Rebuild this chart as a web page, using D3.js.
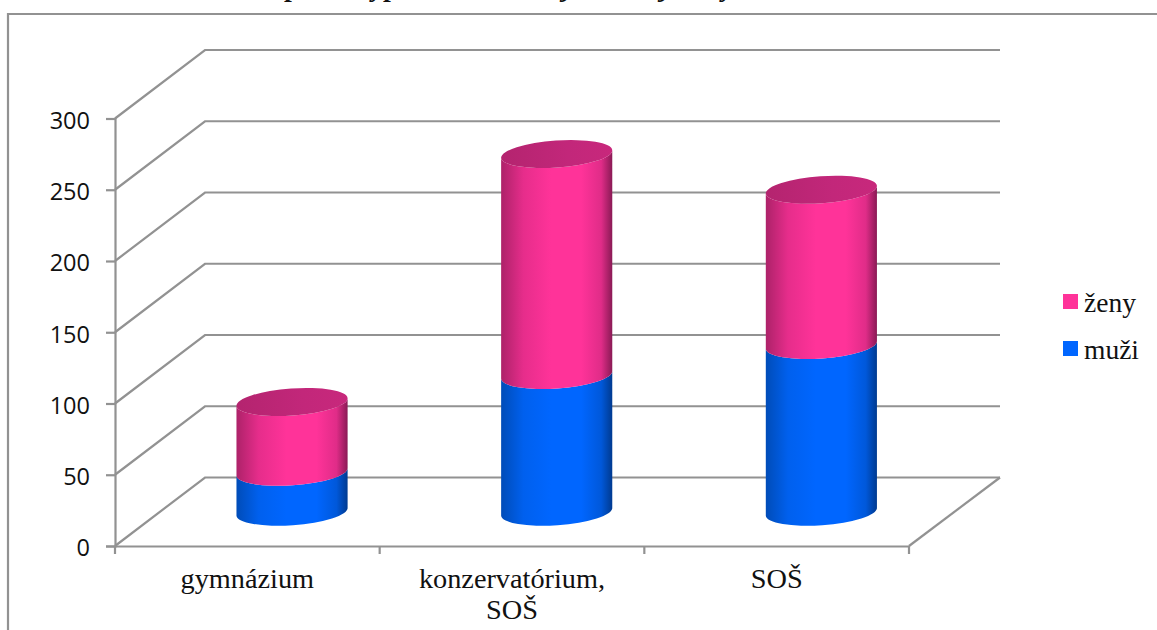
<!DOCTYPE html>
<html>
<head>
<meta charset="utf-8">
<script src="https://cdn.jsdelivr.net/npm/d3@7"></script>
<style>
    html, body { margin: 0; padding: 0; background: #fff; overflow: hidden; }
    svg { display: block; }
    .serif { font-family: "Liberation Serif", serif; fill: #111; }
</style>
</head>
<body>
<div id="chart"></div>
<script>
// data
const schools = ["gymnázium", "konzervatórium, SOŠ", "SOŠ"];
const muzi = [28, 96, 117];
const zeny = [49, 155, 109];
const seriesNames = ["muži", "ženy"];
const yTicks = [0, 50, 100, 150, 200, 250, 300];
const legendOrder = ["ženy", "muži"];
// the title is cut off by the top edge, only these descenders can be read
const titleGlyphs = ["p", "y", "p", "j", "j", "y"];

const width = 1157, height = 630;
const grey = "#929292";
const lineW = 2.2;
const depthX = 90, depthY = -68.5;
const tilt = -4;      // slant of the cylinder ellipses, degrees
const ellipseRy = 13.5;

const svg = d3.select("#chart").append("svg")
    .attr("width", width)
    .attr("height", height);

const x = d3.scaleBand().domain(schools).range([115, 909]);
const y = d3.scaleLinear().domain([0, 300]).range([546, 118.5]);

// Gradients
const colors = {
    "ženy": { top: "#c2277a", stops: ["#ad2269", "#e62d8b", "#ff3399", "#ff3399", "#e02c88", "#8a1a55"] },
    "muži": { top: "#0058dd", stops: ["#004cb8", "#0060ee", "#0066ff", "#0066ff", "#0058da", "#003a90"] }
};
const stopOffsets = [0, 0.2, 0.45, 0.72, 0.9, 1];
const defs = svg.append("defs");
seriesNames.forEach((name, i) => {
    const grad = defs.append("linearGradient")
        .attr("id", "side" + i)
        .attr("x1", 0).attr("x2", 1).attr("y1", 0).attr("y2", 0);
    colors[name].stops.forEach((c, k) => {
        grad.append("stop").attr("offset", stopOffsets[k]).attr("stop-color", c);
    });
});
const capGrad = defs.append("linearGradient")
    .attr("id", "cap")
    .attr("x1", 0).attr("x2", 1).attr("y1", 0).attr("y2", 0);
capGrad.append("stop").attr("offset", 0).attr("stop-color", "#b4246f");
capGrad.append("stop").attr("offset", 0.6).attr("stop-color", colors["ženy"].top);
capGrad.append("stop").attr("offset", 1).attr("stop-color", "#c8287c");

// Frame, open at the bottom and running off to the right
svg.append("path")
    .attr("d", `M8,${height} L8,14 L${width},14`)
    .attr("fill", "none")
    .attr("stroke", grey)
    .attr("stroke-width", lineW);

// Walls
const walls = svg.append("g")
    .attr("fill", "none")
    .attr("stroke", grey)
    .attr("stroke-width", lineW);

yTicks.forEach(t => {
    const yy = y(t);
    walls.append("path")
        .attr("d", `M115,${yy} L${115 + depthX},${yy + depthY} L${909 + depthX + 1},${yy + depthY}`);
});
walls.append("path")
    .attr("d", `M909,${y(0)} L${909 + depthX + 1},${y(0) + depthY}`);

// Axes
const yAxis = svg.append("g")
    .attr("transform", "translate(115,0)")
    .call(d3.axisLeft(y).tickValues(yTicks).tickSize(9).tickPadding(16));
yAxis.select(".domain").attr("stroke", grey).attr("stroke-width", lineW);
yAxis.selectAll("line").attr("stroke", grey).attr("stroke-width", lineW);
yAxis.selectAll("text")
    .style("font-family", "'Open Sans', sans-serif")
    .style("font-size", "23.5px")
    .attr("dy", "0.42em")
    .attr("fill", "#111");

const xAxis = svg.append("g")
    .attr("transform", `translate(0,${y(0)})`)
    .call(d3.axisBottom(x).tickSize(0).tickFormat(""));
xAxis.select(".domain").attr("stroke", grey).attr("stroke-width", lineW);
xAxis.selectAll(".tick").remove();

d3.range(schools.length + 1).forEach(i => {
    const tx = 115 + i * x.step();
    xAxis.append("line")
        .attr("x1", tx).attr("x2", tx)
        .attr("y1", 0).attr("y2", 8)
        .attr("stroke", grey)
        .attr("stroke-width", lineW);
});

// Category labels, wrapped on the space after a comma
schools.forEach(s => {
    const parts = s.split(", ");
    parts.forEach((p, i) => {
        svg.append("text")
            .attr("class", "serif")
            .attr("x", x(s) + x.bandwidth() / 2)
            .attr("y", 588 + i * 31)
            .attr("text-anchor", "middle")
            .style("font-size", "28.3px")
            .text(p + (i < parts.length - 1 ? "," : ""));
    });
});

// Cylinders
const table = schools.map((s, i) => ({ school: s, "muži": muzi[i], "ženy": zeny[i] }));
const stacked = d3.stack().keys(seriesNames)(table);

const rx = 55.7;
const rad = tilt * Math.PI / 180;
const dx = rx * Math.cos(rad), dy = rx * Math.sin(rad);

stacked.forEach((layer, i) => {
    svg.append("g").selectAll("path")
        .data(layer)
        .join("path")
        .attr("fill", `url(#side${i})`)
        .attr("d", d => {
            const cx = x(d.data.school) + x.bandwidth() / 2 + depthX / 2 - 0.3;
            const yb = y(d[0]) + depthY / 2, yt = y(d[1]) + depthY / 2;
            return `M${cx - dx},${yb - dy}` +
                ` A${rx},${ellipseRy} ${tilt} 0 0 ${cx + dx},${yb + dy}` +
                ` L${cx + dx},${yt + dy}` +
                ` A${rx},${ellipseRy} ${tilt} 0 1 ${cx - dx},${yt - dy} Z`;
        });
});

svg.append("g").selectAll("ellipse")
    .data(stacked[1])
    .join("ellipse")
    .attr("rx", rx)
    .attr("ry", ellipseRy)
    .attr("fill", "url(#cap)")
    .attr("transform", d => {
        const cx = x(d.data.school) + x.bandwidth() / 2 + depthX / 2 - 0.3;
        return `translate(${cx},${y(d[1]) + depthY / 2}) rotate(${tilt})`;
    });

// Legend
const legendY = d3.scalePoint().domain(legendOrder).range([301.5, 348.5]);
const legend = svg.append("g").selectAll("g")
    .data(legendOrder)
    .join("g")
    .attr("transform", d => `translate(1063,${legendY(d)})`);
legend.append("rect")
    .attr("y", -7.5)
    .attr("width", 15)
    .attr("height", 15)
    .attr("fill", d => d === "ženy" ? "#ff3399" : "#0066ff");
legend.append("text")
    .attr("class", "serif")
    .attr("x", 21)
    .attr("y", 10)
    .style("font-size", "27.5px")
    .text(d => d);

// What is left of the title
const glyphX = [293, 378, 392, 567, 665, 728];
svg.append("g").selectAll("text")
    .data(titleGlyphs)
    .join("text")
    .attr("class", "serif")
    .attr("x", (d, i) => glyphX[i])
    .attr("y", -4)
    .attr("text-anchor", "middle")
    .style("font-size", "27.5px")
    .style("font-weight", "bold")
    .style("font-style", "italic")
    .text(d => d);
</script>
</body>
</html>
